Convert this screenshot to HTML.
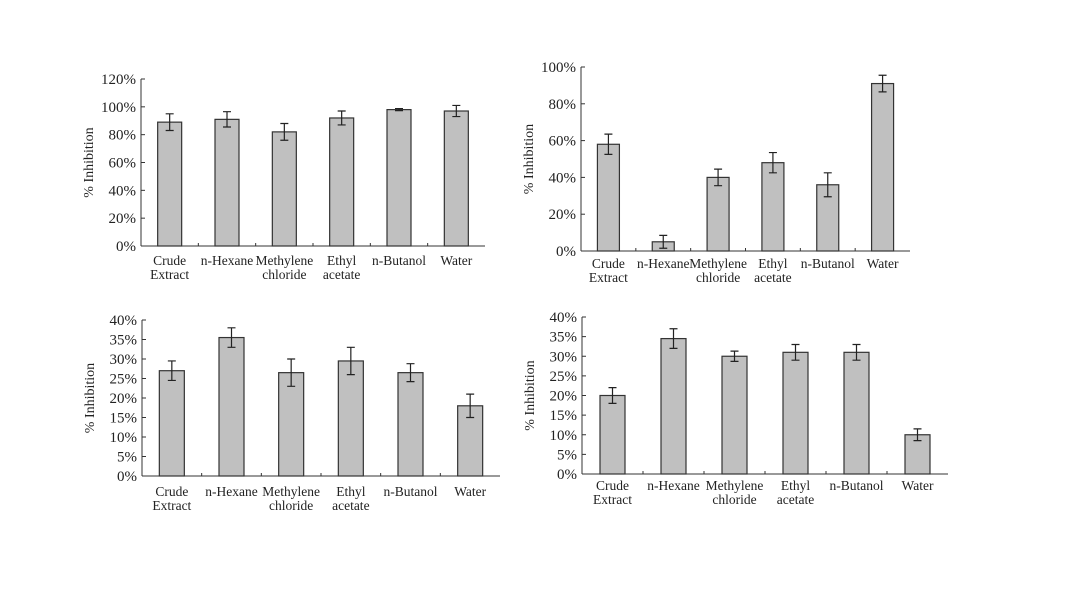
<!DOCTYPE html>
<html><head><meta charset="utf-8">
<style>
html,body{margin:0;padding:0;background:#fff;}
svg{display:block;}
text{font-family:"Liberation Serif",serif;fill:#222;}
</style></head>
<body>
<svg id="root" width="1080" height="608" viewBox="0 0 1080 608"></svg>
<script>
const categories1 = ["Crude|Extract","n-Hexane","Methylene|chloride","Ethyl|acetate","n-Butanol","Water"];
const values1 = [89,91,82,92,98,97];
const errors1 = [6,5.5,6,5,0.7,4];
const ticks1 = [0,20,40,60,80,100,120];

const categories2 = ["Crude|Extract","n-Hexane","Methylene|chloride","Ethyl|acetate","n-Butanol","Water"];
const values2 = [58,5,40,48,36,91];
const errors2 = [5.5,3.5,4.5,5.5,6.5,4.5];
const ticks2 = [0,20,40,60,80,100];

const categories3 = ["Crude|Extract","n-Hexane","Methylene|chloride","Ethyl|acetate","n-Butanol","Water"];
const values3 = [27,35.5,26.5,29.5,26.5,18];
const errors3 = [2.5,2.5,3.5,3.5,2.3,3];
const ticks3 = [0,5,10,15,20,25,30,35,40];

const categories4 = ["Crude|Extract","n-Hexane","Methylene|chloride","Ethyl|acetate","n-Butanol","Water"];
const values4 = [20,34.5,30,31,31,10];
const errors4 = [2,2.5,1.3,2,2,1.5];
const ticks4 = [0,5,10,15,20,25,30,35,40];

const NS="http://www.w3.org/2000/svg";
const root=document.getElementById('root');
function mk(tag,attrs,parent){const e=document.createElementNS(NS,tag);for(const k in attrs)e.setAttribute(k,attrs[k]);(parent||root).appendChild(e);return e;}

function chart(id,cfg,cats,vals,errs,ticks){
  const g=mk('g',{});
  
  
  const max=ticks[ticks.length-1];
  const y=v=>cfg.y0-(v/max)*(cfg.y0-cfg.yTop);
  const band=(cfg.x1-cfg.x0)/cats.length;
  const xc=i=>cfg.x0+band*(i+0.5);
  // axes
  const ya=mk('line',{x1:cfg.x0,y1:cfg.yTop,x2:cfg.x0,y2:cfg.y0,stroke:'#333','stroke-width':1},g);
  
  
  const xa=mk('line',{x1:cfg.x0,y1:cfg.y0,x2:cfg.x1,y2:cfg.y0,stroke:'#333','stroke-width':1},g);
  
  
  ticks.forEach(t=>{
    mk('line',{x1:cfg.x0,y1:y(t),x2:cfg.x0+4,y2:y(t),stroke:'#333','stroke-width':1},g);
    const tl=mk('text',{x:cfg.x0-5,y:y(t)+5,'text-anchor':'end','font-size':15},g);
    tl.textContent=t+'%';
    
    
  });
  for(let i=1;i<cats.length;i++){
    mk('line',{x1:cfg.x0+band*i,y1:cfg.y0,x2:cfg.x0+band*i,y2:cfg.y0-3,stroke:'#333','stroke-width':1},g);
  }
  cats.forEach((c,i)=>{
    const b=mk('rect',{x:xc(i)-cfg.bw/2,y:y(vals[i]),width:cfg.bw,height:cfg.y0-y(vals[i]),fill:'#c0c0c0',stroke:'#333','stroke-width':1.2},g);
    
    
    const hi=y(vals[i]+errs[i]),lo=y(vals[i]-errs[i]);
    const eb=mk('path',{d:`M${xc(i)},${hi}V${lo}M${xc(i)-4},${hi}H${xc(i)+4}M${xc(i)-4},${lo}H${xc(i)+4}`,stroke:'#222','stroke-width':1.2,fill:'none'},g);
    
    
    c.split('|').forEach((ln,k)=>{
      const t=mk('text',{x:xc(i),y:cfg.ly+k*14,'text-anchor':'middle','font-size':13.5},g);
      t.textContent=ln;
      
      
    });
  });
  const cy=(cfg.y0+cfg.yTop)/2;
  const at=mk('text',{x:cfg.x0-48,y:cy,'text-anchor':'middle','font-size':14,transform:`rotate(-90 ${cfg.x0-48} ${cy})`},g);
  at.textContent='% Inhibition';
  
  
}

chart('chart-top-left',{x0:141,x1:485,yTop:79,y0:246,bw:24,ly:265},categories1,values1,errors1,ticks1);
chart('chart-top-right',{x0:581,x1:910,yTop:67,y0:251,bw:22,ly:268},categories2,values2,errors2,ticks2);
chart('chart-bottom-left',{x0:142,x1:500,yTop:320,y0:476,bw:25,ly:496},categories3,values3,errors3,ticks3);
chart('chart-bottom-right',{x0:582,x1:948,yTop:317,y0:474,bw:25,ly:490},categories4,values4,errors4,ticks4);
</script>
</body></html>
